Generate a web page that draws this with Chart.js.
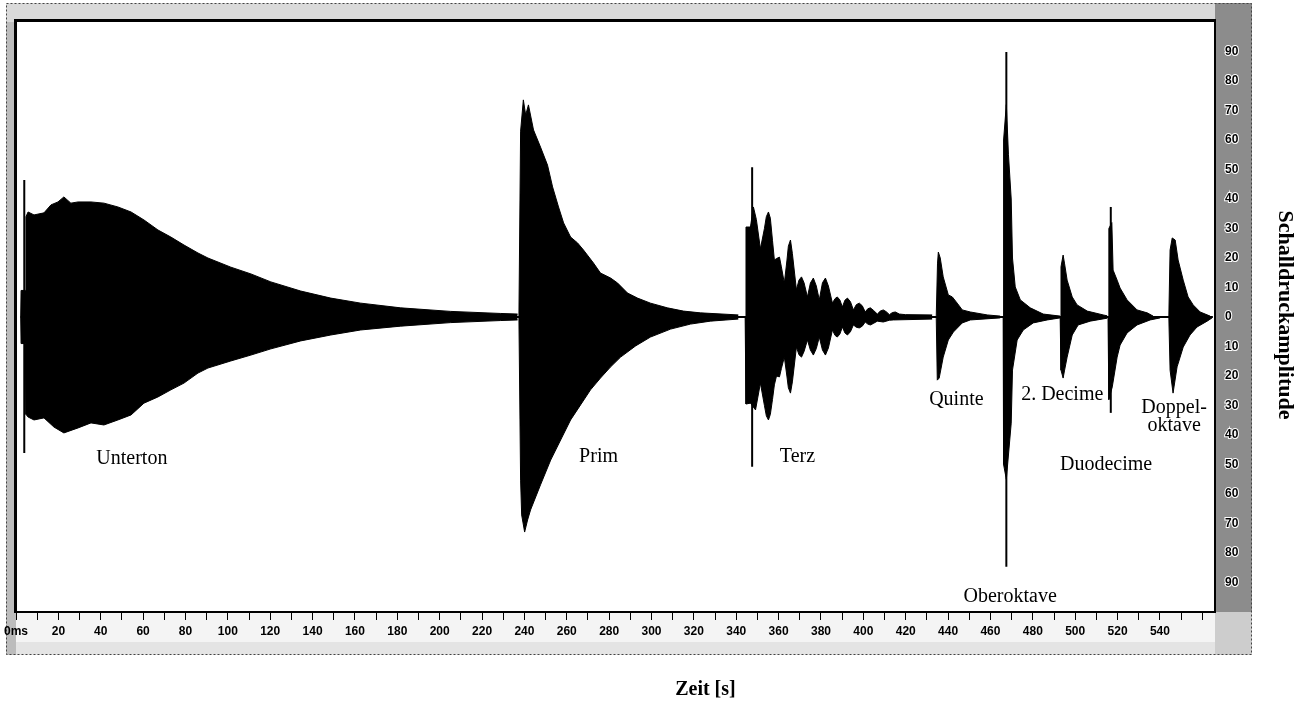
<!DOCTYPE html>
<html>
<head>
<meta charset="utf-8">
<title>Schalldruckamplitude – Teiltöne</title>
<script src="https://cdn.jsdelivr.net/npm/chart.js@4.4.1/dist/chart.umd.min.js"></script>
<style>
  html, body { margin: 0; padding: 0; background: #fff; }
  #wrap { width: 1305px; height: 704px; }
</style>
</head>
<body>
<div id="wrap"><canvas id="c" width="1305" height="704"></canvas></div>
<script>
// Time axis in ms, amplitude in relative units (±100).
// Each partial tone is stored as its upper and lower envelope: [time, amplitude].
const untertonUpper = [[2.2,0],[2.4,9],[4.4,9],[4.7,34],[5.7,35.6],[8.5,34.6],[13.2,35.3],[16.5,38.0],[19.8,39.0],[22.6,40.7],[25.9,38.6],[29.3,39.0],[35.4,39.0],[41.5,38.6],[48.1,37.3],[54.3,35.6],[60.4,32.9],[67.0,29.5],[73.1,27.1],[79.3,24.4],[85.9,21.7],[90.6,20.0],[101.4,16.9],[110.9,14.6],[120.3,11.9],[134.4,8.8],[148.6,6.4],[162.7,4.7],[181.6,3.1],[205.2,1.9],[228.8,1.2],[236.8,1.0]];
const untertonLower = [[2.2,0],[2.4,-9],[4.4,-9],[4.7,-33],[5.7,-33.9],[8.5,-34.9],[13.2,-34.2],[17.9,-37.3],[22.6,-39.3],[29.3,-37.6],[35.4,-35.9],[41.5,-36.6],[48.1,-34.9],[54.3,-33.2],[60.4,-29.2],[67.0,-27.1],[73.1,-24.7],[79.3,-22.4],[85.9,-19.0],[90.6,-17.3],[101.4,-14.9],[110.9,-12.9],[120.3,-10.8],[134.4,-8.1],[148.6,-6.1],[162.7,-4.4],[181.6,-3.1],[205.2,-1.9],[228.8,-1.2],[236.8,-1.0]];

const primUpper = [[237.4,0],[238.2,63.0],[239.5,73.6],[240.6,68.5],[241.9,71.9],[244.3,63.4],[247.6,57.6],[250.9,51.5],[253.3,44.1],[256.1,37.3],[258.5,31.9],[261.8,27.1],[265.1,25.1],[267.9,22.7],[272.6,18.3],[275.9,14.9],[280.7,13.2],[284.0,11.5],[288.7,8.1],[293.4,6.4],[299.5,4.7],[307.5,3.1],[315.1,2.0],[323.1,1.4],[341.0,0.7]];
const primLower = [[237.4,0],[238.2,-55.3],[238.7,-67.1],[240.1,-72.9],[241.5,-68.8],[242.9,-65.4],[247.6,-56.9],[252.4,-48.5],[257.1,-41.7],[261.8,-34.9],[266.5,-29.8],[271.2,-24.7],[275.9,-20.7],[280.7,-16.9],[285.4,-13.6],[292.5,-9.8],[299.5,-6.8],[309.0,-4.1],[318.4,-2.4],[327.8,-1.4],[341.0,-0.7]];

const terzUpper = [[344.2,0],[344.6,30.5],[346.7,30.5],[348.1,37.3],[349.5,33.0],[351.4,23.1],[353.3,30.0],[354.2,34.0],[355.2,35.6],[356.1,33.5],[357.1,26.0],[358.0,19.3],[359.0,19.8],[360.4,20.3],[361.3,17.0],[362.7,11.5],[363.9,19.0],[364.6,24.0],[365.6,26.1],[366.5,21.5],[368.4,9.2],[369.6,12.5],[370.8,13.6],[372.0,11.6],[373.6,6.8],[375.0,11.5],[376.4,13.2],[377.8,10.5],[379.2,5.8],[380.7,11.6],[382.1,13.2],[383.5,10.5],[385.4,4.7],[386.6,6.2],[387.7,6.8],[388.9,5.8],[390.1,3.4],[391.3,5.7],[392.5,6.4],[393.9,5.2],[395.3,2.4],[396.7,4.2],[398.1,4.7],[399.5,3.8],[400.9,1.7],[402.1,2.8],[403.3,3.1],[404.7,2.3],[406.6,1.0],[408.0,2.0],[409.4,2.4],[410.8,1.8],[412.3,0.8],[413.7,1.5],[415.1,1.7],[417.0,1.0],[419.8,0.8],[432.5,0.7]];
const terzLower = [[344.2,0],[344.6,-29.5],[346.7,-29.2],[349.1,-31.5],[351.4,-22.4],[353.3,-30.0],[354.2,-33.5],[355.2,-34.9],[356.1,-33.0],[357.1,-28.0],[358.0,-23.0],[359.0,-20.0],[360.4,-20.3],[361.3,-17.5],[362.7,-13.6],[363.9,-20.0],[364.6,-24.0],[365.6,-25.8],[366.5,-22.0],[368.4,-10.2],[369.6,-12.8],[370.8,-13.6],[372.0,-11.7],[373.6,-7.8],[375.0,-11.2],[376.4,-12.9],[377.8,-10.7],[379.2,-6.8],[380.7,-11.2],[382.1,-12.9],[383.5,-10.5],[385.4,-4.4],[386.6,-6.2],[387.7,-6.8],[388.9,-5.8],[390.1,-3.4],[391.3,-5.4],[392.5,-6.1],[393.9,-5.0],[395.3,-2.7],[396.7,-3.5],[398.1,-3.7],[399.5,-3.1],[400.9,-1.7],[402.1,-2.4],[403.3,-2.7],[404.7,-2.2],[406.6,-1.4],[409.4,-1.7],[412.3,-1.1],[414.2,-1.0],[432.5,-0.7]];

const quinteUpper = [[434.4,0],[435.0,18.0],[435.4,22.0],[436.3,20.0],[437.7,13.6],[440.1,7.5],[442.0,6.8],[444.3,4.7],[446.7,2.4],[450.5,1.7],[458.5,0.7],[464.6,0.3]];
const quinteLower = [[434.4,0],[434.9,-21.4],[435.8,-20.7],[437.7,-13.6],[440.1,-7.8],[442.5,-5.1],[446.7,-2.0],[450.5,-1.0],[464.6,-0.3]];

const oberoktaveUpper = [[466.0,0],[466.2,60],[467.5,72],[468.5,55],[469.8,40],[470.4,20],[471.7,10.2],[474.1,5.8],[478.8,3.1],[484.9,1.0],[492.9,0.3]];
const oberoktaveLower = [[466.0,0],[466.2,-50],[467.5,-55],[469.8,-36],[470.4,-18],[472.6,-7.8],[475.5,-4.4],[480.2,-2.0],[486.8,-1.0],[492.9,-0.3]];

const decimeUpper = [[492.9,0],[493.3,17],[494.3,21.0],[495.0,18],[496.2,12.5],[498.6,6.8],[500.9,4.1],[505.7,2.0],[513.2,0.7],[515.1,0.4]];
const decimeLower = [[492.9,0],[493.3,-18],[494.3,-20.7],[495.0,-18],[496.2,-13.6],[498.6,-6.1],[501.4,-2.7],[507.1,-1.4],[515.1,-0.4]];

const duodecimeUpper = [[515.5,0],[515.9,30],[517.3,32],[517.9,15.9],[519.8,12.5],[521.2,9.8],[524.5,5.8],[529.2,2.4],[534.0,1.4],[536.8,0.3]];
const duodecimeLower = [[515.5,0],[515.9,-28],[517.5,-23.7],[519.8,-13.6],[521.2,-9.5],[524.5,-5.4],[529.2,-2.7],[535.4,-1.0],[540.1,-0.3]];

const doppeloktaveUpper = [[544.2,0],[544.8,22.7],[545.8,26.8],[547.2,26.1],[548.6,19.3],[551.0,12.5],[553.3,6.8],[555.7,4.1],[559.0,1.7],[563.7,0.3]];
const doppeloktaveLower = [[544.2,0],[544.8,-18],[546.2,-25.8],[548.1,-16.9],[551.0,-10.2],[554.2,-6.1],[557.5,-3.4],[562.3,-1.4],[564.6,-0.3]];

// Onset impulses (thin vertical strokes)
const impulseTime   = [3.9, 347.5, 467.5, 516.8];
const impulseTop    = [46.4, 50.8, 89.8, 37.3];
const impulseBottom = [-46.1, -50.8, -84.7, -32.5];

// Zero line of the recording
const baselineTime = [2.2, 565];

// Axis ticks
const xTickValues = [0,10,20,30,40,50,60,70,80,90,100,110,120,130,140,150,160,170,180,190,200,210,220,230,240,250,260,270,280,290,300,310,320,330,340,350,360,370,380,390,400,410,420,430,440,450,460,470,480,490,500,510,520,530,540,550,560];
const xLabelValues = [0,20,40,60,80,100,120,140,160,180,200,220,240,260,280,300,320,340,360,380,400,420,440,460,480,500,520,540];
const xLabelTexts  = ['0ms','20','40','60','80','100','120','140','160','180','200','220','240','260','280','300','320','340','360','380','400','420','440','460','480','500','520','540'];
const yTickValues = [-90,-80,-70,-60,-50,-40,-30,-20,-10,0,10,20,30,40,50,60,70,80,90];

// Partial tone names and their positions [time, amplitude]
const partialNames = ['Unterton','Prim','Terz','Quinte','2. Decime','Doppel-','oktave','Duodecime','Oberoktave'];
const partialTime  = [54.7, 275.0, 368.9, 443.9, 493.9, 546.7, 546.7, 514.6, 469.3];
const partialAmp   = [-48.1, -47.5, -47.5, -28.1, -26.4, -30.6, -36.9, -50.2, -94.9];

const toXY = pts => pts.map(([x, y]) => ({ x, y }));

const envelope = pts => ({
  data: toXY(pts),
  borderColor: '#000',
  backgroundColor: '#000',
  borderWidth: 1,
  pointRadius: 0,
  tension: 0,
  fill: 'origin'
});

const envelopes = [
  untertonUpper, untertonLower, primUpper, primLower, terzUpper, terzLower,
  quinteUpper, quinteLower, oberoktaveUpper, oberoktaveLower,
  decimeUpper, decimeLower, duodecimeUpper, duodecimeLower,
  doppeloktaveUpper, doppeloktaveLower
].map(envelope);

const impulses = impulseTime.map((t, i) => ({
  data: [{ x: t, y: impulseBottom[i] }, { x: t, y: impulseTop[i] }],
  borderColor: '#000',
  borderWidth: 2,
  pointRadius: 0,
  fill: false
}));

const baseline = {
  data: baselineTime.map(t => ({ x: t, y: 0 })),
  borderColor: '#000',
  borderWidth: 2,
  pointRadius: 0,
  fill: false
};

// Scanned panel look: grey frame, axis strip, heavy black border
const framePlugin = {
  id: 'panelFrame',
  beforeDraw(chart) {
    const { ctx, chartArea: a } = chart;
    const L = a.left - 10, T = a.top - 19, R = a.right + 37, B = a.bottom + 43;
    ctx.save();
    ctx.fillStyle = '#fff';
    ctx.fillRect(0, 0, chart.width, chart.height);
    ctx.fillStyle = '#e4e4e4';
    ctx.fillRect(L, T, R - L, B - T);
    ctx.fillStyle = '#bcbcbc';
    ctx.fillRect(L, T, a.left - L, B - T);
    ctx.fillStyle = '#dadada';
    ctx.fillRect(L, T, R - L, a.top - T);
    ctx.fillStyle = '#8c8c8c';
    ctx.fillRect(a.right, T, R - a.right, a.bottom - T);
    ctx.fillStyle = '#cdcdcd';
    ctx.fillRect(a.right, a.bottom, R - a.right, B - a.bottom);
    ctx.fillStyle = '#f4f4f4';
    ctx.fillRect(a.left, a.bottom, a.right - a.left, 30);
    ctx.fillStyle = '#fff';
    ctx.fillRect(a.left, a.top, a.right - a.left, a.bottom - a.top);
    ctx.setLineDash([2, 2]);
    ctx.strokeStyle = '#444';
    ctx.lineWidth = 1;
    ctx.strokeRect(L + 0.5, T + 0.5, R - L - 1, B - T - 1);
    ctx.restore();
  },
  afterDraw(chart) {
    const { ctx, chartArea: a } = chart;
    ctx.save();
    ctx.fillStyle = '#000';
    ctx.fillRect(a.left - 2, a.top - 3, a.right - a.left + 3, 3);
    ctx.fillRect(a.left - 2, a.top - 3, 3, a.bottom - a.top + 4);
    ctx.fillRect(a.right - 1, a.top - 3, 2, a.bottom - a.top + 4);
    ctx.fillRect(a.left - 2, a.bottom - 1, a.right - a.left + 3, 2);

    // axis titles
    ctx.font = 'bold 20px "Liberation Serif", "Times New Roman", serif';
    ctx.textAlign = 'center';
    ctx.textBaseline = 'middle';
    ctx.fillText('Zeit [s]', a.left + 0.575 * (a.right - a.left), a.bottom + 78);
    ctx.save();
    ctx.translate(a.right + 70, (a.top + a.bottom) / 2 - 2);
    ctx.rotate(Math.PI / 2);
    ctx.font = 'bold 22px "Liberation Serif", "Times New Roman", serif';
    ctx.fillText('Schalldruckamplitude', 0, 0);
    ctx.restore();
    ctx.restore();
  }
};

// Names of the partial tones, placed in data coordinates
const partialLabels = {
  id: 'partialLabels',
  afterDatasetsDraw(chart) {
    const { ctx, scales: { x, y } } = chart;
    ctx.save();
    ctx.font = '20px "Liberation Serif", "Times New Roman", serif';
    ctx.fillStyle = '#000';
    ctx.textAlign = 'center';
    ctx.textBaseline = 'middle';
    partialNames.forEach((name, i) => {
      ctx.fillText(name, x.getPixelForValue(partialTime[i]), y.getPixelForValue(partialAmp[i]));
    });
    ctx.restore();
  }
};

new Chart(document.getElementById('c'), {
  type: 'line',
  data: { datasets: [baseline, ...envelopes, ...impulses] },
  options: {
    responsive: false,
    devicePixelRatio: 1,
    animation: false,
    layout: { padding: { left: 15, top: 22, right: 0, bottom: 0 } },
    plugins: { legend: { display: false }, tooltip: { enabled: false } },
    scales: {
      x: {
        type: 'linear',
        min: 0,
        max: 566,
        afterBuildTicks: s => { s.ticks = xTickValues.map(v => ({ value: v })); },
        afterFit: s => { s.height = 92; },
        grid: { drawOnChartArea: false, drawTicks: true, tickLength: 8, tickColor: '#000', tickWidth: 1 },
        border: { display: false },
        ticks: {
          autoSkip: false,
          maxRotation: 0,
          padding: 4,
          color: '#000',
          font: { family: '"Liberation Sans", Arial, sans-serif', size: 12, weight: 'bold' },
          callback: v => {
            const i = xLabelValues.indexOf(v);
            return i >= 0 ? xLabelTexts[i] : '';
          }
        }
      },
      y: {
        position: 'right',
        min: -100,
        max: 100,
        afterBuildTicks: s => { s.ticks = yTickValues.map(v => ({ value: v })); },
        afterFit: s => { s.width = 90; },
        grid: { drawOnChartArea: false, drawTicks: false },
        border: { display: false },
        ticks: {
          padding: 10,
          color: '#000',
          textStrokeColor: '#fff',
          textStrokeWidth: 2,
          font: { family: '"Liberation Sans", Arial, sans-serif', size: 12, weight: 'bold' },
          callback: v => String(Math.abs(v))
        }
      }
    }
  },
  plugins: [framePlugin, partialLabels]
});
</script>
</body>
</html>
